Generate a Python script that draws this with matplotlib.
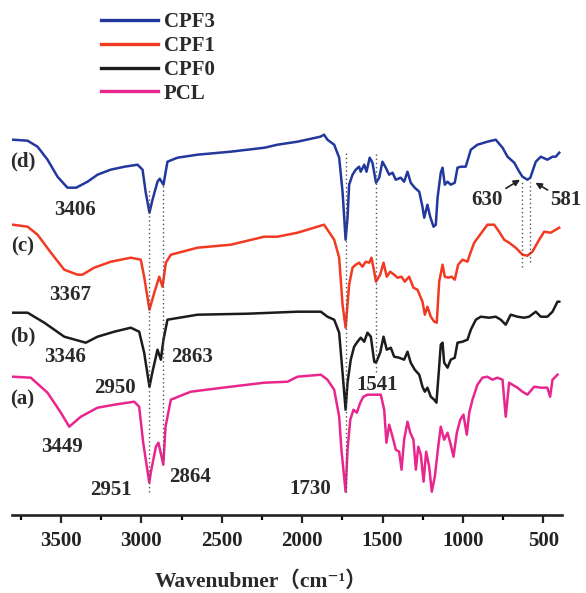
import matplotlib
matplotlib.use("Agg")
import matplotlib.pyplot as plt
from matplotlib.ticker import MultipleLocator

plt.rcParams['font.family'] = ['Liberation Serif', 'DejaVu Serif', 'Noto Sans CJK SC']
plt.rcParams['font.weight'] = 'bold'

# ---- data (wavenumber cm^-1, stacked transmittance a.u.) ----
wn_d = [3800, 3708, 3646, 3584, 3522, 3460, 3406, 3335, 3273, 3192,
        3105, 3024, 2993, 2973, 2950, 2931, 2900, 2886, 2863, 2850,
        2838, 2776, 2652, 2446, 2234, 2154, 2030, 1887, 1864, 1843,
        1801, 1770, 1749, 1730, 1718, 1708, 1687, 1667, 1646, 1636,
        1614, 1600, 1580, 1563, 1541, 1521, 1501, 1480, 1459, 1438,
        1418, 1387, 1366, 1345, 1325, 1300, 1272, 1252, 1241, 1221,
        1204, 1183, 1169, 1158, 1138, 1127, 1113, 1096, 1076, 1051,
        1034, 1014, 983, 951, 910, 848, 796, 754, 723, 681,
        650, 630, 599, 581, 547, 516, 475, 443, 423, 401]
t_d = [375, 374, 368, 355, 338, 327, 327, 333, 340, 345,
       348, 350, 345, 322, 302, 315, 333, 336, 330, 342,
       353, 357, 360, 363, 367, 370, 373, 378, 380, 375,
       370, 357, 323, 275, 297, 330, 340, 345, 348, 343,
       350, 343, 357, 352, 332, 337, 353, 347, 340, 342,
       335, 337, 333, 343, 332, 327, 323, 308, 297, 310,
       298, 288, 290, 317, 342, 347, 330, 333, 330, 332,
       347, 348, 348, 365, 370, 373, 375, 367, 358, 352,
       343, 338, 335, 337, 353, 358, 355, 358, 358, 362]

wn_c = [3800, 3708, 3646, 3563, 3480, 3397, 3367, 3294, 3190, 3066,
        3004, 2983, 2950, 2920, 2889, 2869, 2848, 2817, 2651, 2444,
        2236, 2154, 2029, 1864, 1843, 1801, 1770, 1749, 1730, 1708,
        1687, 1667, 1646, 1625, 1605, 1583, 1569, 1552, 1541, 1515,
        1494, 1474, 1453, 1428, 1407, 1382, 1362, 1335, 1308, 1283,
        1252, 1237, 1221, 1200, 1179, 1163, 1148, 1127, 1113, 1092,
        1071, 1051, 1030, 1003, 972, 951, 930, 889, 848, 806,
        775, 744, 713, 672, 630, 599, 568, 526, 495, 454,
        423, 401]
t_c = [290, 288, 280, 262, 245, 240, 240, 247, 253, 257,
       255, 238, 205, 222, 238, 228, 252, 260, 267, 270,
       278, 278, 282, 290, 285, 275, 257, 210, 187, 230,
       247, 250, 252, 248, 253, 252, 257, 243, 233, 240,
       252, 238, 243, 240, 237, 238, 233, 238, 227, 225,
       213, 200, 208, 198, 193, 192, 233, 250, 238, 237,
       238, 235, 250, 255, 253, 263, 272, 281, 290, 290,
       283, 275, 272, 267, 260, 259, 263, 275, 283, 282,
       285, 287]

wn_b = [3800, 3708, 3604, 3480, 3346, 3273, 3169, 3066, 3014, 2983,
        2950, 2931, 2900, 2879, 2863, 2838, 2651, 2340, 2029, 1884,
        1843, 1801, 1770, 1749, 1730, 1718, 1698, 1677, 1656, 1636,
        1614, 1594, 1573, 1552, 1541, 1515, 1494, 1474, 1449, 1428,
        1397, 1366, 1345, 1325, 1300, 1272, 1252, 1237, 1221, 1200,
        1179, 1165, 1148, 1138, 1127, 1117, 1096, 1076, 1051, 1034,
        1003, 972, 951, 920, 889, 837, 796, 765, 734, 703,
        661, 620, 589, 547, 516, 475, 443, 412, 401]
t_b = [202, 202, 192, 178, 172, 178, 183, 187, 183, 162,
       128, 143, 165, 155, 175, 195, 200, 201, 203, 203,
       198, 195, 182, 142, 105, 132, 155, 168, 173, 177,
       173, 182, 178, 153, 152, 162, 178, 165, 167, 158,
       157, 155, 163, 152, 145, 140, 128, 123, 127, 118,
       115, 112, 148, 170, 172, 152, 147, 155, 157, 172,
       173, 175, 185, 195, 198, 197, 198, 195, 190, 200,
       198, 197, 198, 203, 198, 198, 203, 213, 213]

wn_a = [3800, 3688, 3584, 3501, 3449, 3377, 3273, 3169, 3045, 3014,
        2989, 2951, 2942, 2910, 2894, 2864, 2850, 2817, 2693, 2444,
        2236, 2091, 2029, 1884, 1843, 1801, 1770, 1756, 1730, 1718,
        1701, 1681, 1660, 1639, 1619, 1594, 1511, 1490, 1476, 1459,
        1438, 1418, 1397, 1382, 1366, 1345, 1328, 1308, 1293, 1278,
        1262, 1245, 1229, 1210, 1194, 1175, 1154, 1138, 1117, 1096,
        1076, 1059, 1038, 1017, 997, 976, 961, 941, 910, 879,
        848, 817, 786, 754, 734, 713, 661, 630, 599, 557,
        516, 475, 458, 443, 412]
t_a = [138, 137, 122, 102, 88, 98, 107, 110, 113, 108,
       72, 32, 42, 68, 72, 50, 88, 115, 123, 128,
       132, 133, 138, 140, 135, 125, 98, 65, 23, 65,
       95, 105, 102, 112, 118, 120, 120, 105, 72, 90,
       78, 65, 63, 45, 75, 93, 82, 75, 45, 68,
       60, 33, 63, 48, 23, 38, 68, 88, 75, 82,
       70, 58, 82, 95, 100, 80, 102, 115, 130, 137,
       138, 135, 137, 135, 98, 132, 127, 123, 120, 128,
       127, 127, 118, 135, 140]

series_names = ['CPF3', 'CPF1', 'CPF0', 'PCL']
series_colors = ['#23389c', '#f23a22', '#1c1c1c', '#e8268e']
curve_tags = ['(d)', '(c)', '(b)', '(a)']
tag_levels = [353, 268, 178, 115]

# marker lines: wavenumber, bottom, top
mark_wn = [2950, 2863, 1730, 1541, 630, 581]
mark_lo = [23, 57, 23, 143, 248, 253]
mark_hi = [325, 330, 362, 363, 333, 333]

# peak labels: text, wavenumber position, level
peak_txt = ['3406', '3367', '3346', '2863', '2950', '3449', '2951', '2864', '1730', '1541']
peak_wn = [3416, 3441, 3472, 2682, 3167, 3491, 3192, 2695, 1948, 1532]
peak_lv = [305, 220, 158, 158, 127, 68, 25, 38, 26, 130]

fig = plt.figure(figsize=(5.86, 5.93), dpi=100)
ax = fig.add_axes([12 / 586, 1 - 514.7 / 593, 550 / 586, 514.7 / 593])

xs = [wn_d, wn_c, wn_b, wn_a]
ys = [t_d, t_c, t_b, t_a]
for w, t, name, col in zip(xs, ys, series_names, series_colors):
    ax.plot(w, t, color=col, lw=1.8, label=name, solid_joinstyle='round')

for w, lo, hi in zip(mark_wn, mark_lo, mark_hi):
    ax.vlines(w, lo, hi, colors='#555555', linestyles=(0, (1, 2)), lw=1.0)

for tag, lv in zip(curve_tags, tag_levels):
    ax.text(3739, lv, tag, ha='center', va='center', fontsize=15, fontweight='bold', color='#2a2a2a')

for s, w, lv in zip(peak_txt, peak_wn, peak_lv):
    ax.text(w, lv, s, ha='center', va='center', fontsize=15, fontweight='bold', color='#2a2a2a')

ax.annotate('630', xy=(645, 335), xytext=(848, 315), ha='center', va='center',
            fontsize=15, fontweight='bold', color='#2a2a2a',
            arrowprops=dict(arrowstyle='-|>', color='#222222', lw=1.2, mutation_scale=9,
                            shrinkA=14, shrinkB=0))
ax.annotate('581', xy=(549, 332), xytext=(456, 315), ha='left', va='center',
            fontsize=15, fontweight='bold', color='#2a2a2a', annotation_clip=False,
            arrowprops=dict(arrowstyle='-|>', color='#222222', lw=1.2, mutation_scale=9,
                            shrinkA=0, shrinkB=0, relpos=(0.0, 0.9)))

ax.set_xlim(3805, 384)
ax.set_ylim(0, 514.7)
ax.xaxis.set_major_locator(MultipleLocator(500))
ax.xaxis.set_minor_locator(MultipleLocator(250))
ax.tick_params(axis='x', which='major', direction='out', length=6, width=1.6, pad=6,
               labelsize=15, colors='#222222')
ax.tick_params(axis='x', which='minor', direction='out', length=3.5, width=1.6)
ax.set_yticks([])
for side in ['top', 'left', 'right']:
    ax.spines[side].set_visible(False)
ax.spines['bottom'].set_linewidth(1.9)
ax.spines['bottom'].set_color('#222222')
for lbl in ax.get_xticklabels():
    lbl.set_fontweight('bold')

leg = ax.legend(loc='upper left', bbox_to_anchor=(91 / 586, 1 - 2 / 593), bbox_transform=fig.transFigure,
                frameon=False, fontsize=15, handlelength=2.7, handletextpad=0.3,
                labelspacing=0.18, borderpad=0.0)
for line in leg.get_lines():
    line.set_linewidth(2.4)
for txt in leg.get_texts():
    txt.set_fontweight('bold')
    txt.set_color('#2a2a2a')

fig.text(261 / 586, 1 - 582 / 593, 'Wavenubmer（cm⁻¹）', ha='center', va='center',
         fontsize=15.5, fontweight='bold', color='#2a2a2a')

fig.savefig('out.png', dpi=100)
